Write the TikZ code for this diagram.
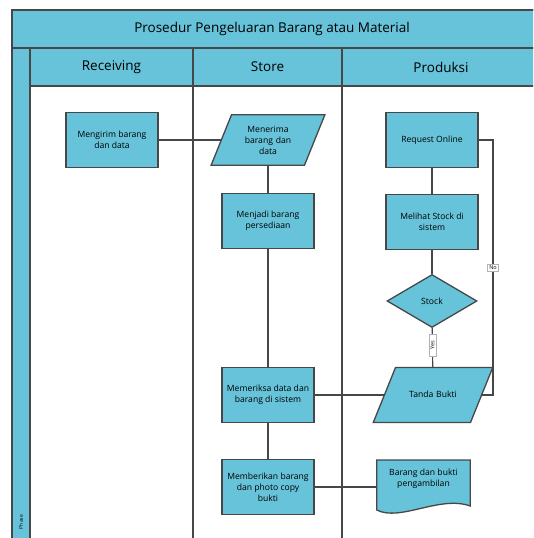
\documentclass[tikz,border=0pt]{standalone}
\usepackage{fontspec}
\setmainfont{Open Sans}
\usetikzlibrary{shapes.geometric,backgrounds}
\definecolor{lanefill}{HTML}{66C3D9}
\definecolor{edge}{HTML}{474747}
\tikzset{
  lane/.style={draw=edge,line width=1.4pt},
  heading/.style={font=\fontsize{13.5}{16}\selectfont},
  box/.style={draw=edge,line width=1.3pt,fill=lanefill,minimum width=92pt,minimum height=55pt,
    align=center,font=\fontsize{8.6}{11}\selectfont,inner sep=1pt},
  iobox/.style={box,trapezium,trapezium left angle=68,trapezium right angle=112,
    minimum width=0pt,minimum height=0pt},
  decision/.style={box,diamond,minimum width=90pt,minimum height=53pt,inner sep=0pt},
  link/.style={draw=edge,line width=1.2pt},
  flag/.style={draw=gray!60,fill=white,line width=0.6pt,font=\fontsize{5.5}{6}\selectfont,inner sep=1.5pt}
}
\begin{document}
\begin{tikzpicture}[x=1pt,y=-1pt]
\useasboundingbox (0,0) rectangle (533,538);
\clip (0,0) rectangle (533,538);

% pool and lanes
\draw[lane] (12,10) rectangle (560,560);
\draw[lane,fill=lanefill] (12,10) rectangle (560,48);
\draw[lane,fill=lanefill] (12,48) rectangle (30,560);
\draw[lane,fill=lanefill] (30,48) rectangle (560,86);
\draw[lane] (193,48) -- (193,560);
\draw[lane] (342,48) -- (342,560);
\node[heading] (judul) at (272,29) {Prosedur Pengeluaran Barang atau Material};
\node[heading] (receiving) at (111.5,67) {Receiving};
\node[heading] (store) at (267.5,67) {Store};
\node[heading] (produksi) at (441,67) {Produksi};
\node[rotate=90,font=\fontsize{5}{6}\selectfont] (phase) at (21,522) {Phase};

% receiving
\node[box] (mengirim) at (112,140) {Mengirim barang\\dan data};

% store
\node[iobox,text width=50pt,inner xsep=11.5pt,inner ysep=11pt] (menerima) at (268,140) {Menerima\\barang dan\\data};
\node[box] (menjadi) at (268,221) {Menjadi barang\\persediaan};
\node[box] (memeriksa) at (268,395) {Memeriksa data dan\\barang di sistem};
\node[box] (memberikan) at (268,487) {Memberikan barang\\dan photo copy\\bukti};

% produksi
\node[box] (request) at (432,140) {Request Online};
\node[box] (melihat) at (432,222) {Melihat Stock di\\sistem};
\node[decision] (stock) at (432,301) {Stock};
\node[iobox,text width=60pt,inner xsep=7.5pt,inner ysep=23.5pt,text height=6pt,text depth=2pt] (tanda) at (433,395) {Tanda Bukti};
\node[align=center,font=\fontsize{8.6}{11}\selectfont,minimum width=93pt,inner sep=0pt] (bukti) at (423.5,479) {Barang dan bukti\\pengambilan};
\begin{scope}[on background layer]
\draw[box] (bukti.west |- 0,460) -- (bukti.east |- 0,460) -- (bukti.east |- 0,506)
  .. controls (440,495) and (400,522) .. (bukti.west |- 0,510) -- cycle;
\end{scope}

% connectors
\coordinate (noline) at (493,140);
\draw[link] (mengirim.east) -- (mengirim.east -| menerima.west);
\draw[link] (menjadi.north) -- (menjadi.north |- menerima.south);
\draw[link] (menjadi) -- (memeriksa);
\draw[link] (memeriksa) -- (memberikan);
\draw[link] (memeriksa.east) -- (memeriksa.east -| tanda.west);
\draw[link] (memberikan.east) -- (memberikan.east -| bukti.west);
\draw[link] (request) -- (melihat);
\draw[link] (melihat) -- (stock);
\draw[link] (stock) -- (tanda) node[flag,rotate=90,pos=0.45,minimum width=22pt] {Yes};
\draw[link] (request.east) -- (noline) |- (tanda.east) node[flag,pos=0.25] {No};

\end{tikzpicture}
\end{document}
